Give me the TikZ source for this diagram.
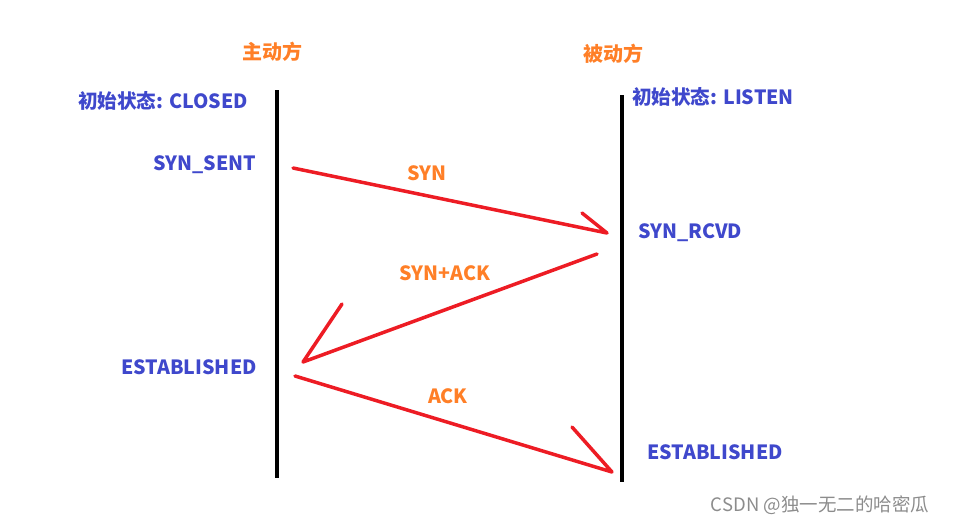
\documentclass[tikz,border=0pt]{standalone}
\usepackage{fontspec}
\setmainfont{Noto Sans CJK SC}
\usepackage{tikz}
\usetikzlibrary{positioning}
\definecolor{tcpblue}{HTML}{3F48CC}
\definecolor{tcporange}{HTML}{FF7F27}
\definecolor{tcpred}{HTML}{ED1C24}
\tikzset{
  side/.style={font=\fontsize{20}{20}\selectfont\bfseries, text=tcporange, inner sep=0pt},
  state/.style={font=\fontsize{19.6}{20}\selectfont\bfseries, text=tcpblue, inner sep=0pt},
  msg/.style={font=\fontsize{19.6}{20}\selectfont\bfseries, text=tcporange, inner sep=0pt},
  lifeline/.style={black, line width=4pt},
  pkt/.style={tcpred, line width=3.5pt, line cap=round, line join=round}
}
\begin{document}
\begin{tikzpicture}[x=1pt, y=-1pt]
    \useasboundingbox (0,0) rectangle (955,523);
    % two sides
    \node[side] (client) at (272,52) {主动方};
    \node[side] (server) at (613,54) {被动方};

    % lifelines
    \coordinate (c top) at (277,90);
    \coordinate (c bot) at (277,478);
    \coordinate (s top) at (622,95);
    \coordinate (s bot) at (622,482);
    \draw[lifeline] (c top) -- (c bot);
    \draw[lifeline] (s top) -- (s bot);

    % states
    \node[state] (c init) at (163,101) {初始状态: CLOSED};
    \node[state] (s init) at (713,97) {初始状态: LISTEN};
    \node[state] (c sent) at (205,165) {SYN\_SENT};
    \node[state] (s rcvd) at (690,233) {SYN\_RCVD};
    \node[state] (c est) at (189,367) {ESTABLISHED};
    \node[state] (s est) at (715,452) {ESTABLISHED};

    % packets
    \coordinate (syn from) at (293,168);
    \coordinate (syn to) at (607,233);
    \coordinate (syn barb) at (582,213);
    \coordinate (ack1 from) at (597,254);
    \coordinate (ack1 to) at (303,362);
    \coordinate (ack1 barb) at (342,304);
    \coordinate (ack2 from) at (295,376);
    \coordinate (ack2 to) at (612,472);
    \coordinate (ack2 barb) at (572,427);
    \draw[pkt] (syn from) -- (syn to) -- (syn barb);
    \draw[pkt] (ack1 from) -- (ack1 to) -- (ack1 barb);
    \draw[pkt] (ack2 from) -- (ack2 to) -- (ack2 barb);

    \node[msg] (syn) at (427,173) {SYN};
    \node[msg] (synack) at (445,273) {SYN+ACK};
    \node[msg] (ack) at (448,396) {ACK};

    % watermark
    \node[text=black!45, font=\fontsize{18.5}{18.5}\selectfont, inner sep=0pt] (mark) at (820,505) {CSDN @独一无二的哈密瓜};
\end{tikzpicture}
\end{document}
